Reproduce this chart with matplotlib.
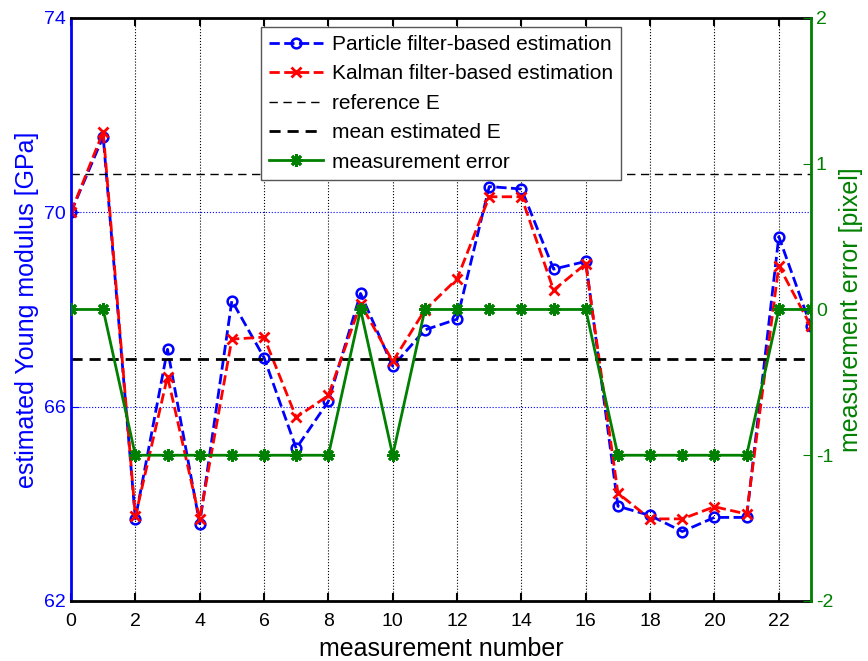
import numpy as np
import matplotlib
matplotlib.use('Agg')
import matplotlib.pyplot as plt
from matplotlib.lines import Line2D

plt.rcParams['font.family'] = ['Liberation Sans', 'DejaVu Sans']
plt.rcParams['axes.unicode_minus'] = False

meas = np.arange(24)
particle_E = [70.0, 71.56, 63.69, 67.18, 63.59, 68.18, 67.01, 65.14, 66.11, 68.33,
              66.83, 67.58, 67.80, 70.53, 70.48, 68.83, 68.99, 63.95, 63.76, 63.43,
              63.72, 63.72, 69.50, 67.65]
kalman_E = [70.0, 71.66, 63.74, 66.62, 63.69, 67.39, 67.43, 65.78, 66.23, 68.12,
            66.93, 67.99, 68.63, 70.32, 70.32, 68.40, 68.94, 64.22, 63.69, 63.69,
            63.94, 63.79, 68.90, 67.65]
meas_error = [0, 0, -1, -1, -1, -1, -1, -1, -1, 0, -1, 0, 0, 0, 0, 0, 0,
              -1, -1, -1, -1, -1, 0, 0]
reference_E = 70.78
mean_E = 66.99

fig = plt.figure(figsize=(8.68, 6.61), dpi=100)
ax = fig.add_axes([0.0818, 0.0908, 0.8525, 0.882])

ax.plot(meas, particle_E, '--o', color='blue', lw=2, ms=7, mfc='none', mew=1.8)
ax.plot(meas, kalman_E, '--x', color='red', lw=2, ms=7, mew=2)
ax.axhline(reference_E, color='black', ls='--', lw=1, dashes=(6, 4))
ax.axhline(mean_E, color='black', ls='--', lw=2, dashes=(4, 2.5))

ax.set_xlim(0, 23)
ax.set_ylim(62, 74)
ax.set_xticks(range(0, 23, 2))
ax.set_yticks([62, 66, 70, 74])
ax.tick_params(axis='both', direction='in', length=6, labelsize=14)
ax.tick_params(axis='y', colors='blue', right=True)
ax.tick_params(axis='x', top=True, width=1.5, pad=9)
ax.xaxis.grid(True, ls=':', color='black', lw=0.8)
ax.yaxis.grid(True, ls=':', color='blue', lw=0.8)
ax.spines['left'].set_color('blue')
ax.spines['left'].set_linewidth(2)
ax.spines['bottom'].set_linewidth(2)
ax.spines['top'].set_linewidth(2)
ax.set_xlabel('measurement number', fontsize=18, labelpad=5)
ax.set_ylabel('estimated Young modulus [GPa]', fontsize=18, color='blue', labelpad=4)

ax2 = ax.twinx()
ax2.plot(meas, meas_error, '-', color='green', lw=2, marker=(8, 2, 0), ms=9, mew=2)
ax2.set_ylim(-2, 2)
ax2.set_yticks([-2, -1, 0, 1, 2])
ax2.tick_params(axis='y', direction='in', length=6, labelsize=14, colors='green')
ax2.spines['right'].set_color('green')
ax2.spines['right'].set_linewidth(2)
ax2.spines['left'].set_visible(False)
ax2.spines['top'].set_visible(False)
ax2.spines['bottom'].set_visible(False)
ax2.set_ylabel('measurement error [pixel]', fontsize=18, color='green', labelpad=4)

handles = [
    Line2D([], [], ls='--', color='blue', lw=2, marker='o', ms=7, mfc='none', mew=1.8),
    Line2D([], [], ls='--', color='red', lw=2, marker='x', ms=7, mew=2),
    Line2D([], [], ls='--', color='black', lw=1, dashes=(6, 4)),
    Line2D([], [], ls='--', color='black', lw=2, dashes=(4, 2.5)),
    Line2D([], [], ls='-', color='green', lw=2, marker=(8, 2, 0), ms=9, mew=2),
]
labels = ['Particle filter-based estimation', 'Kalman filter-based estimation',
          'reference E', 'mean estimated E', 'measurement error']
leg = ax2.legend(handles, labels, loc='upper center', bbox_to_anchor=(0.5, 0.985),
                 borderaxespad=0, fontsize=15, fancybox=False, framealpha=1,
                 edgecolor='#555555', handlelength=2.6, handletextpad=0.4,
                 labelspacing=0.5, borderpad=0.4)
leg.get_frame().set_linewidth(1)

fig.savefig('out.png', dpi=100)
